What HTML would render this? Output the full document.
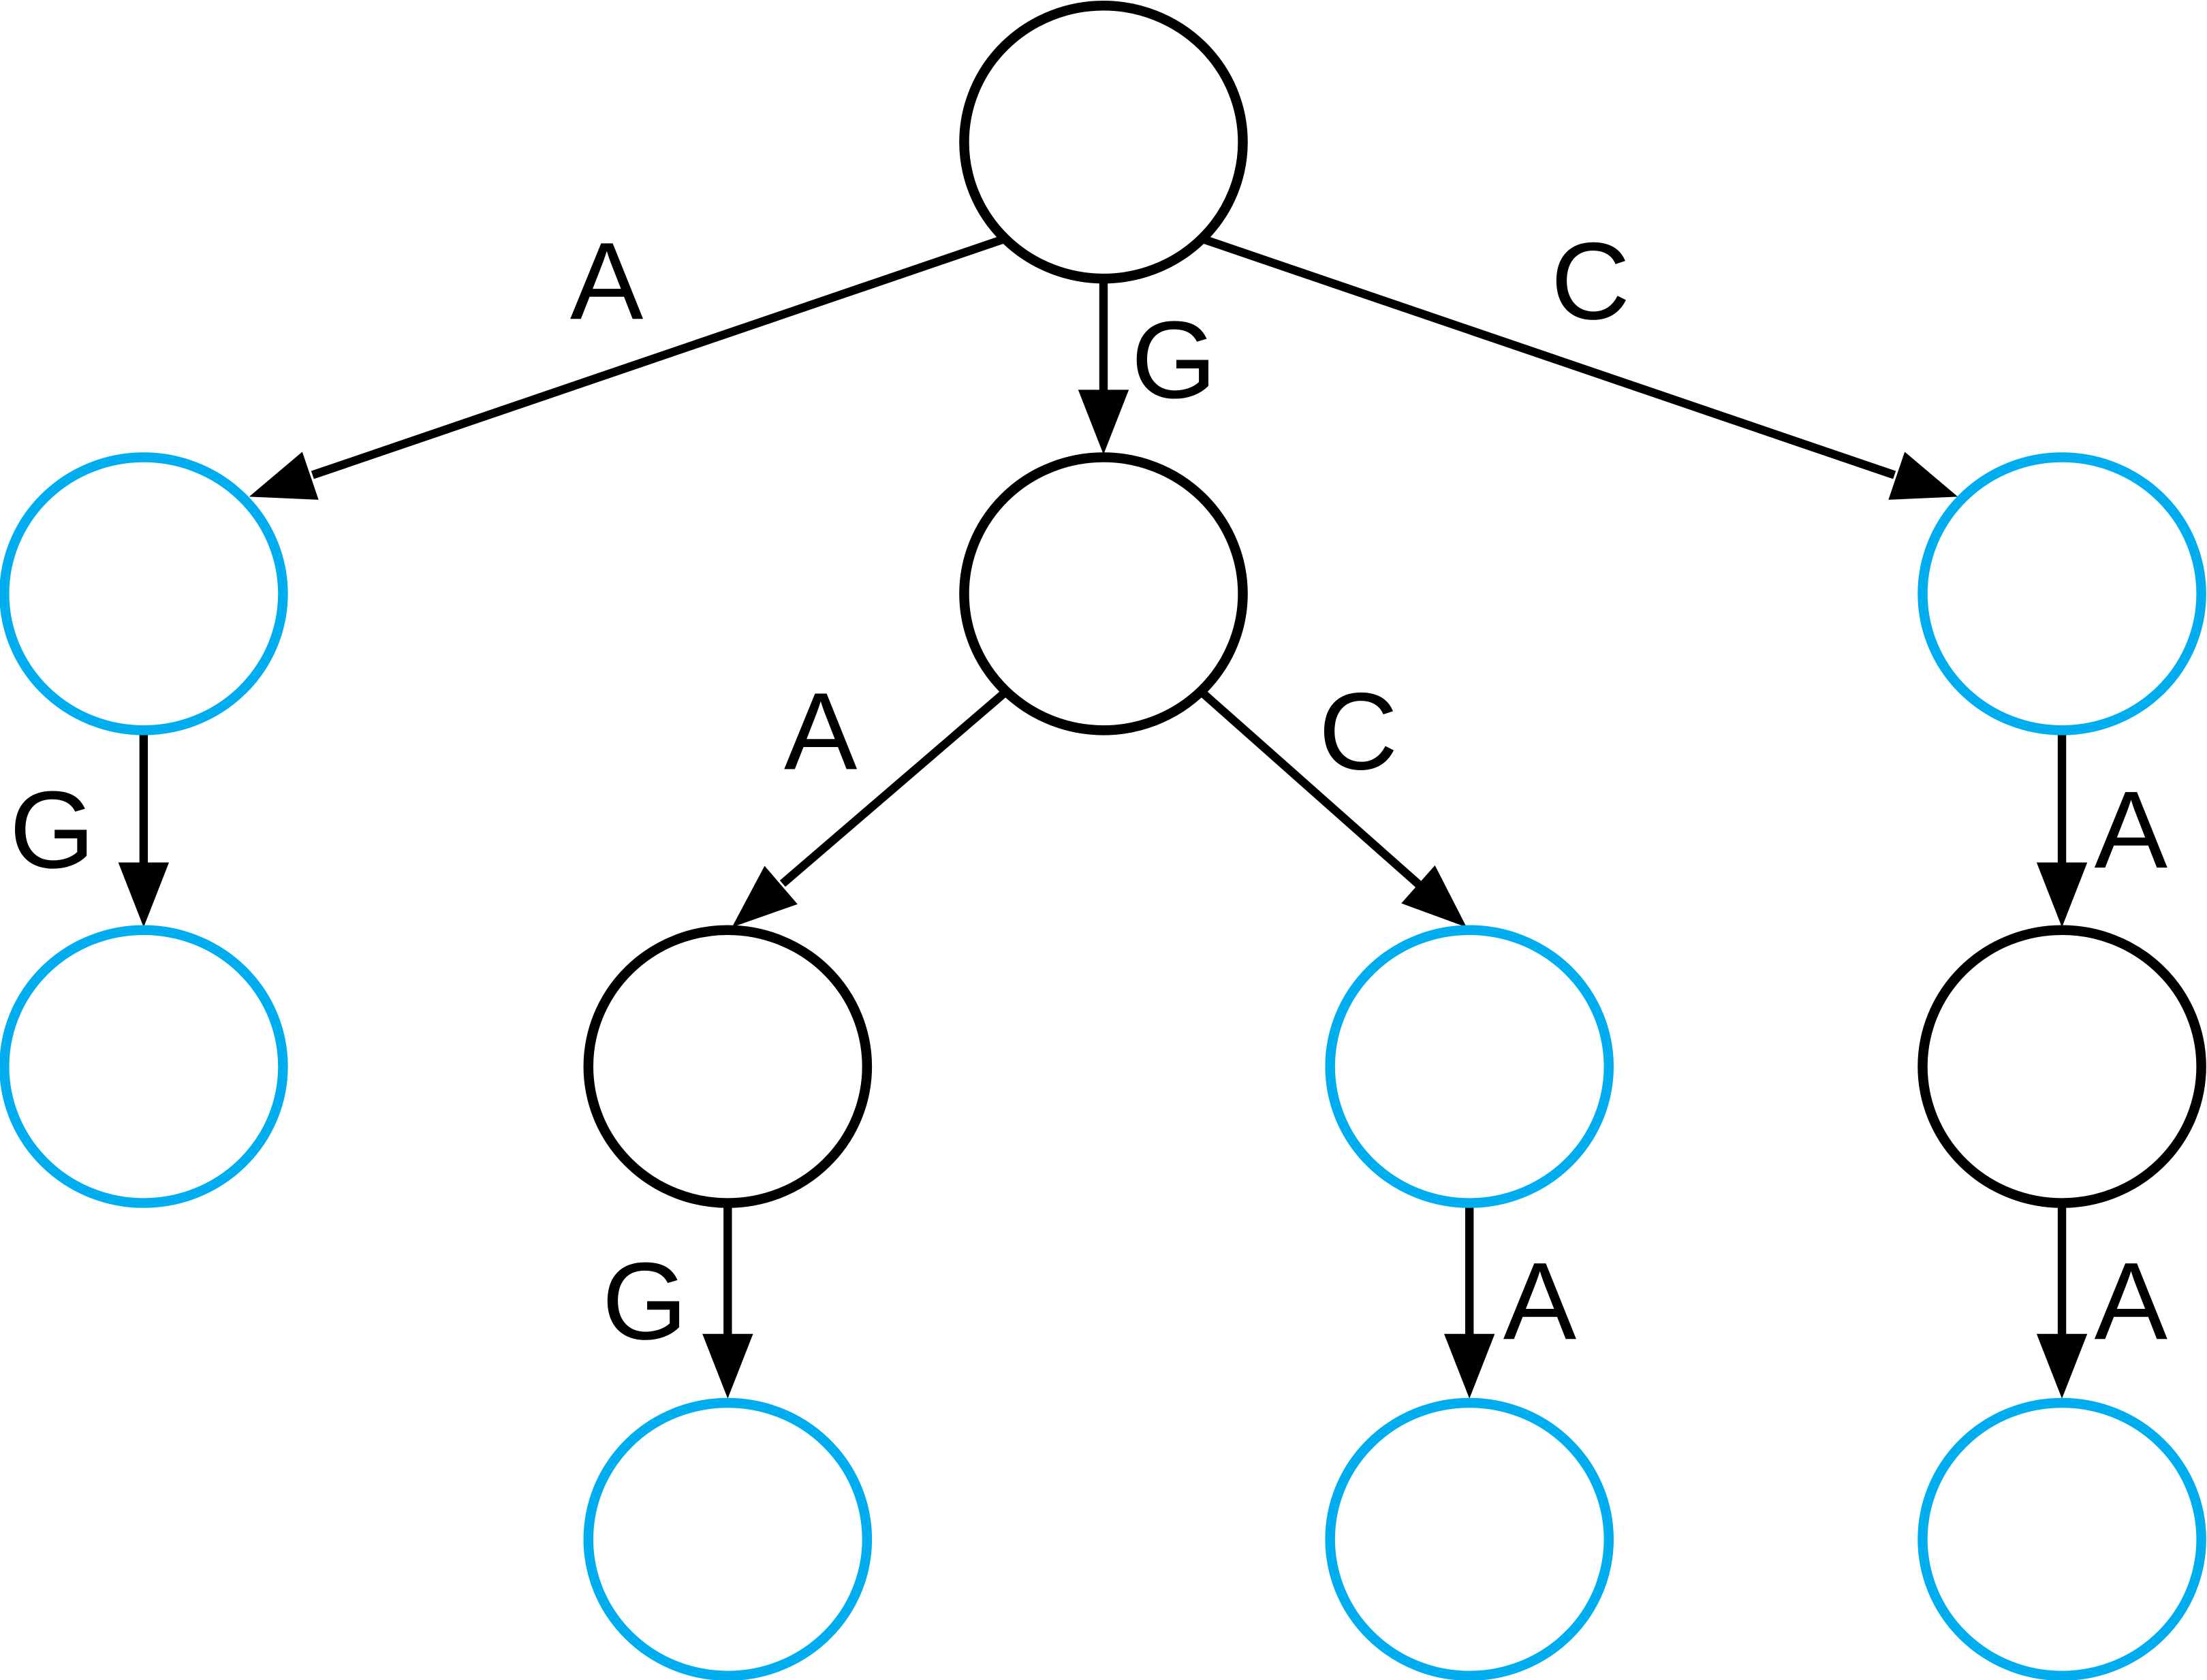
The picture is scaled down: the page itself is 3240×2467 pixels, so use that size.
<!DOCTYPE html>
<html><head><meta charset="utf-8"><style>
html,body{margin:0;padding:0;background:#fff;}
svg{display:block;}
text{font-family:"Liberation Sans",sans-serif;font-size:78px;fill:#000;text-anchor:middle;dominant-baseline:central;}
</style></head><body>
<svg width="3240" height="2467" viewBox="0 0 1568 1194" xmlns="http://www.w3.org/2000/svg">
<g stroke="#000" stroke-width="6" fill="none">
<line x1="713" y1="170" x2="222" y2="337.6"/>
<line x1="784" y1="200" x2="784" y2="279"/>
<line x1="855" y1="170" x2="1346" y2="337.6"/>
<line x1="713" y1="493" x2="556" y2="628"/>
<line x1="855" y1="493" x2="1009" y2="629.5"/>
<line x1="102" y1="521" x2="102" y2="615"/>
<line x1="1465" y1="521" x2="1465" y2="615"/>
<line x1="517" y1="857" x2="517" y2="950"/>
<line x1="1044" y1="857" x2="1044" y2="950"/>
<line x1="1465" y1="857" x2="1465" y2="950"/>
</g>
<g fill="#000">
<polygon points="177,353 226.3,355.2 214.7,321.1"/>
<polygon points="1391,353 1341.7,355.2 1353.3,321.1"/>
<polygon points="520,659 566.6,642.6 543.2,615.4"/>
<polygon points="1042,659 995.6,642 1019.5,615"/>
<polygon points="784,323 766,277 802,277"/>
<polygon points="102,659 84,613 120,613"/>
<polygon points="1465,659 1447,613 1483,613"/>
<polygon points="517,994 499,948 535,948"/>
<polygon points="1044,994 1026,948 1062,948"/>
<polygon points="1465,994 1447,948 1483,948"/>
</g>
<g stroke-width="7" fill="none">
<ellipse cx="784" cy="101" rx="99" ry="97" stroke="#000"/>
<ellipse cx="102" cy="422" rx="99" ry="97" stroke="#00AEEF"/>
<ellipse cx="784" cy="422" rx="99" ry="97" stroke="#000"/>
<ellipse cx="1465" cy="422" rx="99" ry="97" stroke="#00AEEF"/>
<ellipse cx="102" cy="758" rx="99" ry="97" stroke="#00AEEF"/>
<ellipse cx="517" cy="758" rx="99" ry="97" stroke="#000"/>
<ellipse cx="1044" cy="758" rx="99" ry="97" stroke="#00AEEF"/>
<ellipse cx="1465" cy="758" rx="99" ry="97" stroke="#000"/>
<ellipse cx="517" cy="1094" rx="99" ry="97" stroke="#00AEEF"/>
<ellipse cx="1044" cy="1094" rx="99" ry="97" stroke="#00AEEF"/>
<ellipse cx="1465" cy="1094" rx="99" ry="97" stroke="#00AEEF"/>
</g>
<text x="431" y="200">A</text>
<text x="834" y="256">G</text>
<text x="1130" y="200">C</text>
<text x="583" y="520">A</text>
<text x="965" y="520">C</text>
<text x="37" y="590">G</text>
<text x="1514" y="590">A</text>
<text x="458" y="925">G</text>
<text x="1094" y="925">A</text>
<text x="1514" y="925">A</text>
</svg>
</body></html>
